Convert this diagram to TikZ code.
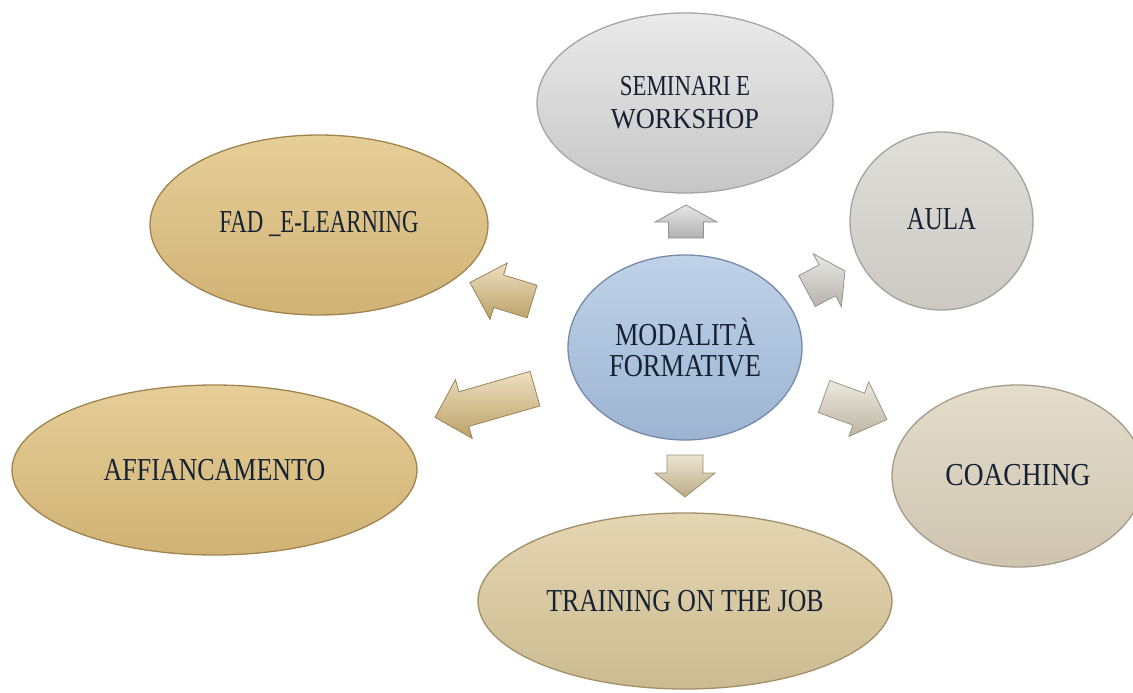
\documentclass[tikz,border=0pt]{standalone}
\usepackage{fontspec}
\setmainfont{Liberation Serif}
\usepackage{graphicx}
\usetikzlibrary{shapes.geometric}
\definecolor{txt}{RGB}{22,34,52}
\definecolor{semT}{RGB}{234,234,234}\definecolor{semB}{RGB}{198,198,198}\definecolor{semR}{RGB}{165,165,165}
\definecolor{cenT}{RGB}{192,210,232}\definecolor{cenB}{RGB}{156,180,210}\definecolor{cenR}{RGB}{118,138,168}
\definecolor{aulT}{RGB}{224,222,217}\definecolor{aulB}{RGB}{204,201,195}\definecolor{aulR}{RGB}{165,162,155}
\definecolor{coaT}{RGB}{228,221,204}\definecolor{coaB}{RGB}{206,196,176}\definecolor{coaR}{RGB}{165,155,135}
\definecolor{traT}{RGB}{228,214,178}\definecolor{traB}{RGB}{204,187,145}\definecolor{traR}{RGB}{160,143,105}
\definecolor{affT}{RGB}{230,206,152}\definecolor{affB}{RGB}{208,178,116}\definecolor{affR}{RGB}{160,132,80}
\definecolor{arGray}{RGB}{200,200,200}
\definecolor{arAula}{RGB}{208,204,196}
\definecolor{arCoa}{RGB}{214,205,184}
\definecolor{arTra}{RGB}{212,196,152}
\definecolor{arGold}{RGB}{214,184,118}
\tikzset{
  bub/.style={ellipse, inner sep=0pt, text=txt, align=center, line width=1.3pt,
    font=\fontsize{32}{32}\selectfont},
  barr/.style={line width=0.8pt, line join=miter}
}
\newcommand\sqz[2]{\scalebox{#1}[1]{#2}}
% name, center, screen angle (clockwise), length, head length, shaft half width, head half width, colour
\newcommand\barrow[8]{%
  \begin{scope}[shift={(#2)},rotate=-#3]
    \pgfmathsetmacro\La{#4/2}\pgfmathsetmacro\Lb{#4/2-#5}
    \path[barr, top color=#8!45!white, bottom color=#8!88!black, draw=#8!72!black]
      (-\La,-#6) -- (\Lb,-#6) -- (\Lb,-#7) -- (\La,0) -- (\Lb,#7) -- (\Lb,#6) -- (-\La,#6) -- cycle;
    \coordinate (#1) at (0,0);
  \end{scope}}
\begin{document}
\begin{tikzpicture}[x=1pt,y=-1pt]
\useasboundingbox (0,0) rectangle (1133,693);
% ellipses
\node[bub, minimum width=296, minimum height=180, top color=semT, bottom color=semB, draw=semR,
  font=\fontsize{29}{33}\selectfont]
  (sem) at (685,103) {\sqz{0.79}{SEMINARI E}\\\sqz{0.91}{WORKSHOP}};
\node[bub, minimum width=234, minimum height=185, top color=cenT, bottom color=cenB, draw=cenR,
  font=\fontsize{32}{31}\selectfont]
  (cen) at (685,347.5) {\sqz{0.82}{MODALITÀ}\\\sqz{0.83}{FORMATIVE}};
\node[bub, minimum width=183, minimum height=178, top color=aulT, bottom color=aulB, draw=aulR]
  (aula) at (941.5,221) {\raisebox{5pt}{\sqz{0.778}{AULA}}};
\node[bub, minimum width=252, minimum height=182, top color=coaT, bottom color=coaB, draw=coaR]
  (coa) at (1018,476) {\raisebox{3pt}{\sqz{0.859}{COACHING}}};
\node[bub, minimum width=414, minimum height=176, top color=traT, bottom color=traB, draw=traR]
  (tra) at (685,601) {\sqz{0.806}{TRAINING ON THE JOB}};
\node[bub, minimum width=405, minimum height=170, top color=affT, bottom color=affB, draw=affR]
  (aff) at (214.5,470) {\sqz{0.811}{AFFIANCAMENTO}};
\node[bub, minimum width=338, minimum height=180, top color=affT, bottom color=affB, draw=affR]
  (fad) at (319,225) {\raisebox{7pt}{\sqz{0.7125}{FAD \_E-LEARNING}}};
% block arrows
\barrow{aUp}{686,221.5}{-90}{33}{17}{17.5}{31}{arGray}
\barrow{aAula}{826,281}{-28}{43}{20}{17.5}{30}{arAula}
\barrow{aCoa}{855.5,408}{20}{67}{30}{17}{29}{arCoa}
\barrow{aDown}{685,476}{90}{42}{24}{18}{30}{arTra}
\barrow{aAff}{485,403}{164}{104}{30}{18}{30.5}{arGold}
\barrow{aFad}{501,292}{197}{65}{30}{17}{29.5}{arGold}
\end{tikzpicture}
\end{document}
